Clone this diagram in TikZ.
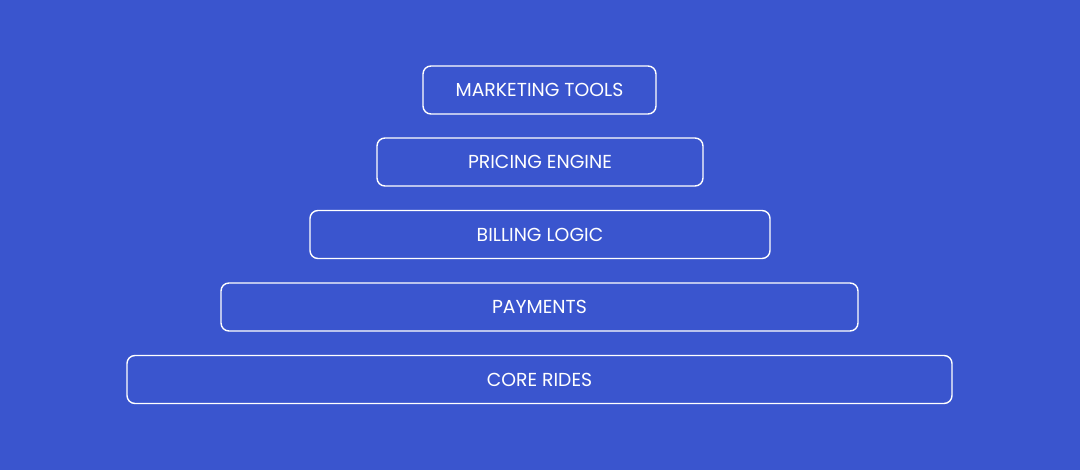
\documentclass[tikz,border=0pt]{standalone}
\usepackage{fontspec}
\setmainfont{Poppins}
\definecolor{bg}{RGB}{58,85,206}
\begin{document}
\begin{tikzpicture}[x=1pt,y=-1pt,
  layer/.style={draw=white,line width=1.4pt,rounded corners=8pt,text=white,
    font=\fontsize{18.8}{22}\selectfont,inner sep=0pt,minimum height=48pt}]
\fill[bg] (0,0) rectangle (1080,470);
\useasboundingbox (0,0) rectangle (1080,470);
\node[layer,minimum width=233pt] (mt) at (539.5,90) {MARKETING TOOLS};
\node[layer,minimum width=326pt] (pe) at (540,162) {PRICING ENGINE};
\node[layer,minimum width=460pt] (bl) at (540,234.5) {BILLING LOGIC};
\node[layer,minimum width=637pt] (pa) at (539.5,307) {PAYMENTS};
\node[layer,minimum width=825pt] (cr) at (539.5,379.5) {CORE RIDES};
\end{tikzpicture}
\end{document}
